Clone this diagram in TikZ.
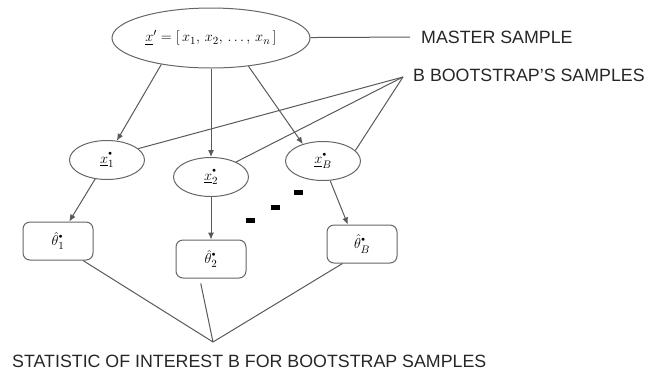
\documentclass[tikz,border=0pt]{standalone}
\usepackage{fontspec}
\setsansfont{Liberation Sans}
\usepackage{amsmath}
\usetikzlibrary{shapes.geometric,arrows.meta,positioning,calc}

\newcommand{\bdot}{\raisebox{2pt}{$\scriptscriptstyle\bullet$}}

\begin{document}
\begin{tikzpicture}[
    x=1pt, y=1pt,
    sample/.style={ellipse, draw=black!60, line width=1pt, minimum width=75pt, minimum height=39pt, inner sep=0pt, font=\fontsize{15}{18}\selectfont},
    mainsample/.style={sample, minimum width=198pt, minimum height=60pt},
    statbox/.style={rectangle, draw=black!60, line width=1pt, rounded corners=7pt, minimum width=70pt, minimum height=38pt, inner sep=0pt, font=\fontsize{15}{18}\selectfont},
    caption/.style={anchor=west, inner sep=0pt, text=black!85, font=\sffamily\fontsize{17.8}{21}\selectfont},
    arrow/.style={-{Latex[length=7pt,width=6pt]}, draw=black!65, line width=1pt},
    link/.style={draw=black!65, line width=1pt}
]
    \useasboundingbox (0,0) rectangle (650,-373);

    \node[mainsample] (master) at (211,-38) {$\underline{x}'=[\,x_{1},\, x_{2},\, \dots,\, x_{n}\,]$};

    \node[sample, on grid, below left=122pt and 104pt of master] (x1) {$\underline{x}^{\bdot}_{1}$};
    \node[sample, on grid, below=139pt of master] (x2) {$\underline{x}^{\bdot}_{2}$};
    \node[sample, on grid, below right=123pt and 112pt of master] (xB) {$\underline{x}^{\bdot}_{B}$};

    \node[statbox, on grid, below left=81pt and 49pt of x1] (t1) {$\hat{\theta}^{\bdot}_{1}$};
    \node[statbox, on grid, below=82pt of x2] (t2) {$\hat{\theta}^{\bdot}_{2}$};
    \node[statbox, on grid, below right=83pt and 39pt of xB] (tB) {$\hat{\theta}^{\bdot}_{B}$};

    % labels on the right and below
    \node[caption] (mlabel) at (421,-37) {MASTER SAMPLE};
    \coordinate (bsplit) at (403,-77);
    \node[caption] (blabel) at (413,-75) {B BOOTSTRAP'S SAMPLES};
    \coordinate (sjoin) at (213,-342);
    \node[caption] (slabel) at (12,-361) {STATISTIC OF INTEREST B FOR BOOTSTRAP SAMPLES};

    \draw[arrow] (master.208) -- (x1.63);
    \draw[arrow] (master) -- (x2);
    \draw[arrow] (master.-37) -- (xB.140);
    \draw[arrow] (x1.-122) -- (t1.60);
    \draw[arrow] (x2) -- (t2);
    \draw[arrow] (xB.-70) -- (tB.126);

    \draw[link, shorten >=11pt] (master) -- (mlabel.west);
    \draw[link] (bsplit) -- (x1.20);
    \draw[link] (bsplit) -- (x2.31);
    \draw[link] (bsplit) -- (xB.18);
    \draw[link] (sjoin) -- (t1.-38);
    \draw[link, shorten >=5pt] (sjoin) -- (t2.-120);
    \draw[link] (sjoin) -- (tB.-135);

    % dots between the samples
    \foreach \x/\y in {250/-220, 275/-207, 298/-192}
        \fill[black] (\x,\y) +(-4.5,-2.5) rectangle +(4.5,2.5);
\end{tikzpicture}
\end{document}
